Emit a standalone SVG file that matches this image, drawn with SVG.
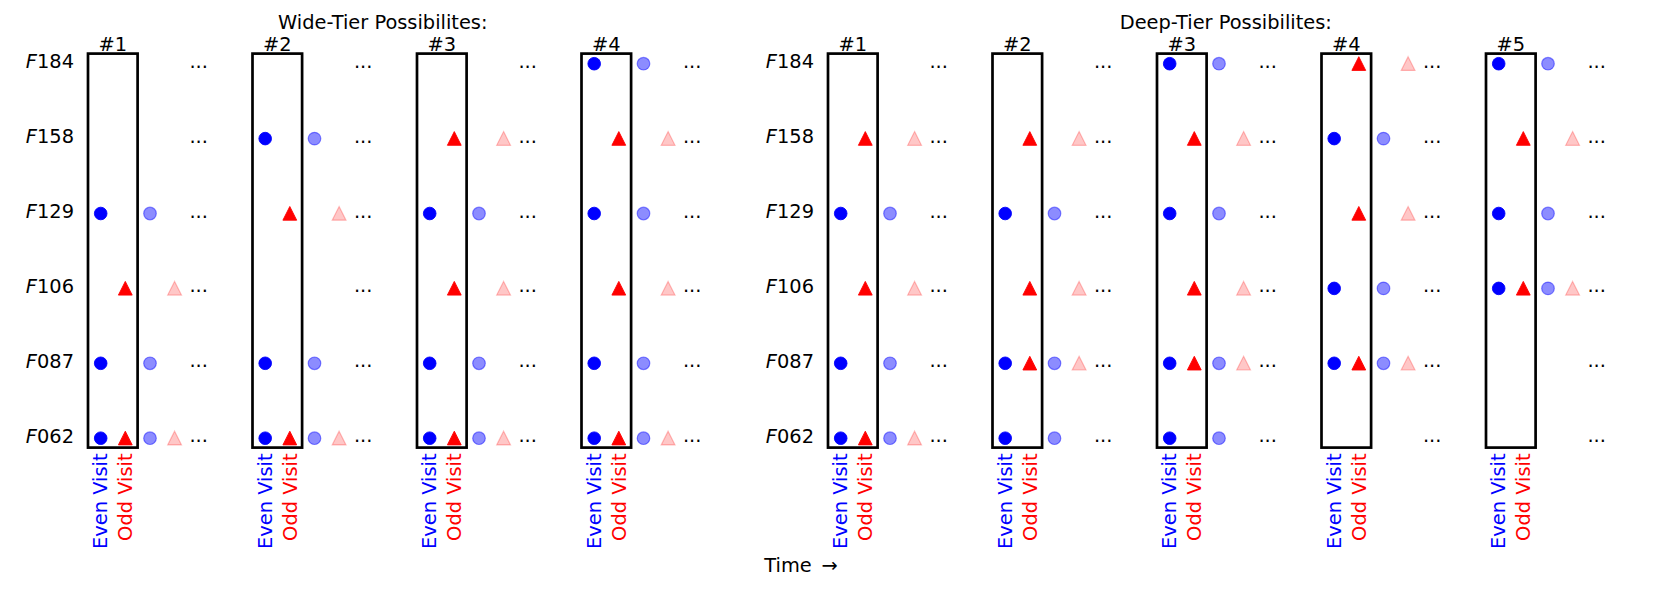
<svg xmlns="http://www.w3.org/2000/svg" xmlns:xlink="http://www.w3.org/1999/xlink" width="1661" height="592" viewBox="0 0 1661 592">
<style>
text{font-family:"DejaVu Sans","Liberation Sans",sans-serif;font-size:19.4px;fill:#000}
.num{text-anchor:middle}
.ylab{text-anchor:end}
.ell{text-anchor:middle}
.even{fill:#0000ff;text-anchor:end}
.odd{fill:#ff0000;text-anchor:end}
.box{fill:none;stroke:#000;stroke-width:2.7;stroke-linejoin:miter}
</style>
<defs>
<circle id="dot" r="6.3" fill="#0000ff" stroke="#0000ff" stroke-width="0.9"/>
<polygon id="tri" points="0,-7 6.9,6.7 -6.9,6.7" fill="#ff0000" stroke="#ff0000" stroke-width="0.9"/>
<circle id="fdot" r="6.3" fill="#0000ff" fill-opacity="0.45" stroke="#0000ff" stroke-opacity="0.45" stroke-width="1.2"/>
<polygon id="ftri" points="0,-7 6.9,6.7 -6.9,6.7" fill="#ff0000" fill-opacity="0.22" stroke="#ff0000" stroke-opacity="0.25" stroke-width="1.2"/>
<g id="ells">
<text class="ell" x="110.7" y="67.7">...</text>
<text class="ell" x="110.7" y="142.6">...</text>
<text class="ell" x="110.7" y="217.5">...</text>
<text class="ell" x="110.7" y="292.4">...</text>
<text class="ell" x="110.7" y="367.3">...</text>
<text class="ell" x="110.7" y="442.2">...</text>
</g>
<g id="frame">
<rect class="box" x="0" y="53.6" width="49.6" height="394"/>
<text class="even" transform="translate(19.4,453.5) rotate(-90)">Even Visit</text>
<text class="odd" transform="translate(44.1,453.5) rotate(-90)">Odd Visit</text>
</g>
</defs>

<g id="titles">
<text x="382.8" y="29.3" text-anchor="middle">Wide-Tier Possibilites:</text>
<text x="1225.8" y="29.3" text-anchor="middle">Deep-Tier Possibilites:</text>
<text x="801" y="571.7" text-anchor="middle">Time <tspan dx="3.5">→</tspan></text>
</g>

<g id="yaxis-wide">
<text class="ylab" x="74" y="68.1"><tspan font-style="italic">F</tspan>184</text>
<text class="ylab" x="74" y="143"><tspan font-style="italic">F</tspan>158</text>
<text class="ylab" x="74" y="217.9"><tspan font-style="italic">F</tspan>129</text>
<text class="ylab" x="74" y="292.8"><tspan font-style="italic">F</tspan>106</text>
<text class="ylab" x="74" y="367.7"><tspan font-style="italic">F</tspan>087</text>
<text class="ylab" x="74" y="442.6"><tspan font-style="italic">F</tspan>062</text>
</g>
<g id="yaxis-deep">
<text class="ylab" x="814" y="68.1"><tspan font-style="italic">F</tspan>184</text>
<text class="ylab" x="814" y="143"><tspan font-style="italic">F</tspan>158</text>
<text class="ylab" x="814" y="217.9"><tspan font-style="italic">F</tspan>129</text>
<text class="ylab" x="814" y="292.8"><tspan font-style="italic">F</tspan>106</text>
<text class="ylab" x="814" y="367.7"><tspan font-style="italic">F</tspan>087</text>
<text class="ylab" x="814" y="442.6"><tspan font-style="italic">F</tspan>062</text>
</g>

<!-- Wide-Tier #1 -->
<g id="wide-1" transform="translate(88,0)">
<text class="num" x="24.8" y="50.5">#1</text>
<use href="#frame"/>
<use href="#dot" x="12.7" y="213.5"/><use href="#fdot" x="62" y="213.5"/>
<use href="#tri" x="37.3" y="288.4"/><use href="#ftri" x="86.6" y="288.4"/>
<use href="#dot" x="12.7" y="363.3"/><use href="#fdot" x="62" y="363.3"/>
<use href="#dot" x="12.7" y="438.2"/><use href="#fdot" x="62" y="438.2"/>
<use href="#tri" x="37.3" y="438.2"/><use href="#ftri" x="86.6" y="438.2"/>
<use href="#ells"/>
</g>

<!-- Wide-Tier #2 -->
<g id="wide-2" transform="translate(252.5,0)">
<text class="num" x="24.8" y="50.5">#2</text>
<use href="#frame"/>
<use href="#dot" x="12.7" y="138.6"/><use href="#fdot" x="62" y="138.6"/>
<use href="#tri" x="37.3" y="213.5"/><use href="#ftri" x="86.6" y="213.5"/>
<use href="#dot" x="12.7" y="363.3"/><use href="#fdot" x="62" y="363.3"/>
<use href="#dot" x="12.7" y="438.2"/><use href="#fdot" x="62" y="438.2"/>
<use href="#tri" x="37.3" y="438.2"/><use href="#ftri" x="86.6" y="438.2"/>
<use href="#ells"/>
</g>

<!-- Wide-Tier #3 -->
<g id="wide-3" transform="translate(417,0)">
<text class="num" x="24.8" y="50.5">#3</text>
<use href="#frame"/>
<use href="#tri" x="37.3" y="138.6"/><use href="#ftri" x="86.6" y="138.6"/>
<use href="#dot" x="12.7" y="213.5"/><use href="#fdot" x="62" y="213.5"/>
<use href="#tri" x="37.3" y="288.4"/><use href="#ftri" x="86.6" y="288.4"/>
<use href="#dot" x="12.7" y="363.3"/><use href="#fdot" x="62" y="363.3"/>
<use href="#dot" x="12.7" y="438.2"/><use href="#fdot" x="62" y="438.2"/>
<use href="#tri" x="37.3" y="438.2"/><use href="#ftri" x="86.6" y="438.2"/>
<use href="#ells"/>
</g>

<!-- Wide-Tier #4 -->
<g id="wide-4" transform="translate(581.5,0)">
<text class="num" x="24.8" y="50.5">#4</text>
<use href="#frame"/>
<use href="#dot" x="12.7" y="63.7"/><use href="#fdot" x="62" y="63.7"/>
<use href="#tri" x="37.3" y="138.6"/><use href="#ftri" x="86.6" y="138.6"/>
<use href="#dot" x="12.7" y="213.5"/><use href="#fdot" x="62" y="213.5"/>
<use href="#tri" x="37.3" y="288.4"/><use href="#ftri" x="86.6" y="288.4"/>
<use href="#dot" x="12.7" y="363.3"/><use href="#fdot" x="62" y="363.3"/>
<use href="#dot" x="12.7" y="438.2"/><use href="#fdot" x="62" y="438.2"/>
<use href="#tri" x="37.3" y="438.2"/><use href="#ftri" x="86.6" y="438.2"/>
<use href="#ells"/>
</g>

<!-- Deep-Tier #1 -->
<g id="deep-1" transform="translate(828,0)">
<text class="num" x="24.8" y="50.5">#1</text>
<use href="#frame"/>
<use href="#tri" x="37.3" y="138.6"/><use href="#ftri" x="86.6" y="138.6"/>
<use href="#dot" x="12.7" y="213.5"/><use href="#fdot" x="62" y="213.5"/>
<use href="#tri" x="37.3" y="288.4"/><use href="#ftri" x="86.6" y="288.4"/>
<use href="#dot" x="12.7" y="363.3"/><use href="#fdot" x="62" y="363.3"/>
<use href="#dot" x="12.7" y="438.2"/><use href="#fdot" x="62" y="438.2"/>
<use href="#tri" x="37.3" y="438.2"/><use href="#ftri" x="86.6" y="438.2"/>
<use href="#ells"/>
</g>

<!-- Deep-Tier #2 -->
<g id="deep-2" transform="translate(992.5,0)">
<text class="num" x="24.8" y="50.5">#2</text>
<use href="#frame"/>
<use href="#tri" x="37.3" y="138.6"/><use href="#ftri" x="86.6" y="138.6"/>
<use href="#dot" x="12.7" y="213.5"/><use href="#fdot" x="62" y="213.5"/>
<use href="#tri" x="37.3" y="288.4"/><use href="#ftri" x="86.6" y="288.4"/>
<use href="#dot" x="12.7" y="363.3"/><use href="#fdot" x="62" y="363.3"/>
<use href="#tri" x="37.3" y="363.3"/><use href="#ftri" x="86.6" y="363.3"/>
<use href="#dot" x="12.7" y="438.2"/><use href="#fdot" x="62" y="438.2"/>
<use href="#ells"/>
</g>

<!-- Deep-Tier #3 -->
<g id="deep-3" transform="translate(1157,0)">
<text class="num" x="24.8" y="50.5">#3</text>
<use href="#frame"/>
<use href="#dot" x="12.7" y="63.7"/><use href="#fdot" x="62" y="63.7"/>
<use href="#tri" x="37.3" y="138.6"/><use href="#ftri" x="86.6" y="138.6"/>
<use href="#dot" x="12.7" y="213.5"/><use href="#fdot" x="62" y="213.5"/>
<use href="#tri" x="37.3" y="288.4"/><use href="#ftri" x="86.6" y="288.4"/>
<use href="#dot" x="12.7" y="363.3"/><use href="#fdot" x="62" y="363.3"/>
<use href="#tri" x="37.3" y="363.3"/><use href="#ftri" x="86.6" y="363.3"/>
<use href="#dot" x="12.7" y="438.2"/><use href="#fdot" x="62" y="438.2"/>
<use href="#ells"/>
</g>

<!-- Deep-Tier #4 -->
<g id="deep-4" transform="translate(1321.5,0)">
<text class="num" x="24.8" y="50.5">#4</text>
<use href="#frame"/>
<use href="#tri" x="37.3" y="63.7"/><use href="#ftri" x="86.6" y="63.7"/>
<use href="#dot" x="12.7" y="138.6"/><use href="#fdot" x="62" y="138.6"/>
<use href="#tri" x="37.3" y="213.5"/><use href="#ftri" x="86.6" y="213.5"/>
<use href="#dot" x="12.7" y="288.4"/><use href="#fdot" x="62" y="288.4"/>
<use href="#dot" x="12.7" y="363.3"/><use href="#fdot" x="62" y="363.3"/>
<use href="#tri" x="37.3" y="363.3"/><use href="#ftri" x="86.6" y="363.3"/>
<use href="#ells"/>
</g>

<!-- Deep-Tier #5 -->
<g id="deep-5" transform="translate(1486,0)">
<text class="num" x="24.8" y="50.5">#5</text>
<use href="#frame"/>
<use href="#dot" x="12.7" y="63.7"/><use href="#fdot" x="62" y="63.7"/>
<use href="#tri" x="37.3" y="138.6"/><use href="#ftri" x="86.6" y="138.6"/>
<use href="#dot" x="12.7" y="213.5"/><use href="#fdot" x="62" y="213.5"/>
<use href="#dot" x="12.7" y="288.4"/><use href="#fdot" x="62" y="288.4"/>
<use href="#tri" x="37.3" y="288.4"/><use href="#ftri" x="86.6" y="288.4"/>
<use href="#ells"/>
</g>
</svg>
